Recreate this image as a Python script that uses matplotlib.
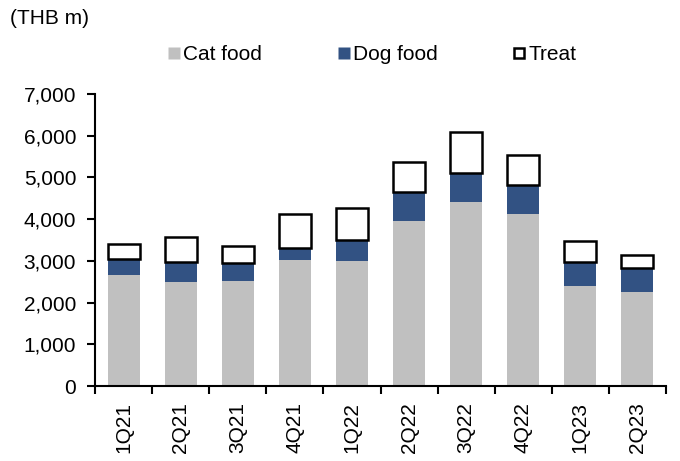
import matplotlib
matplotlib.use("Agg")
import matplotlib.pyplot as plt
from matplotlib.lines import Line2D
import numpy as np

plt.rcParams['font.family'] = ['Liberation Sans', 'DejaVu Sans']

quarters = ["1Q21", "2Q21", "3Q21", "4Q21", "1Q22", "2Q22", "3Q22", "4Q22", "1Q23", "2Q23"]
cat_food = [2655, 2490, 2510, 3030, 3005, 3950, 4420, 4130, 2400, 2265]
dog_food = [400, 485, 440, 290, 500, 700, 685, 680, 580, 560]
treat = [360, 600, 410, 800, 770, 720, 980, 725, 500, 320]

FS = 15

fig = plt.figure(figsize=(6.8, 4.61), dpi=100)
ax = fig.add_axes([95/680, 75/461, 571/680, 292/461])

x = np.arange(len(quarters))
w = 0.56
cat = np.array(cat_food)
dog = np.array(dog_food)
tr = np.array(treat)
ax.bar(x, cat, width=w, color="#c0c0c0", edgecolor="none")
ax.bar(x, dog, width=w, bottom=cat, color="#325283", edgecolor="none")
ax.bar(x, tr, width=w, bottom=cat + dog, color="white", edgecolor="black", linewidth=1.8)

ax.set_xlim(-0.5, len(quarters) - 0.5)
ax.set_ylim(0, 7000)
ax.set_yticks(np.arange(0, 7001, 1000))
ax.set_yticklabels([f"{v:,}" for v in range(0, 7001, 1000)], fontsize=FS)
ax.set_xticks(np.arange(-0.5, len(quarters), 1.0))
ax.set_xticklabels([])
ax.set_xticks(x, minor=True)
ax.set_xticklabels(quarters, minor=True, rotation=90, fontsize=FS)
ax.tick_params(axis='x', which='minor', length=0, pad=11.5)
ax.tick_params(axis='x', which='major', length=5.5, width=1.5, direction='out')
ax.tick_params(axis='y', length=6, width=1.5, direction='out', pad=7.5)
for s in ["top", "right"]:
    ax.spines[s].set_visible(False)
for s in ["left", "bottom"]:
    ax.spines[s].set_linewidth(1.5)

fig.text(10/680, 1 - 18/461, "(THB m)", fontsize=FS, va='center', ha='left')

handles = [
    Line2D([], [], marker='s', linestyle='none', markersize=8, markerfacecolor="#c0c0c0", markeredgecolor="none"),
    Line2D([], [], marker='s', linestyle='none', markersize=8, markerfacecolor="#325283", markeredgecolor="none"),
    Line2D([], [], marker='s', linestyle='none', markersize=7, markerfacecolor="white", markeredgecolor="black", markeredgewidth=1.8),
]
fig.legend(handles, ["Cat food", "Dog food", "Treat"], loc='center', bbox_to_anchor=(372/680, 1 - 55/461),
           ncol=3, frameon=False, fontsize=FS, handlelength=0.6, handletextpad=0.15, columnspacing=3.6,
           borderpad=0, borderaxespad=0)

fig.savefig("out.png", dpi=100)
